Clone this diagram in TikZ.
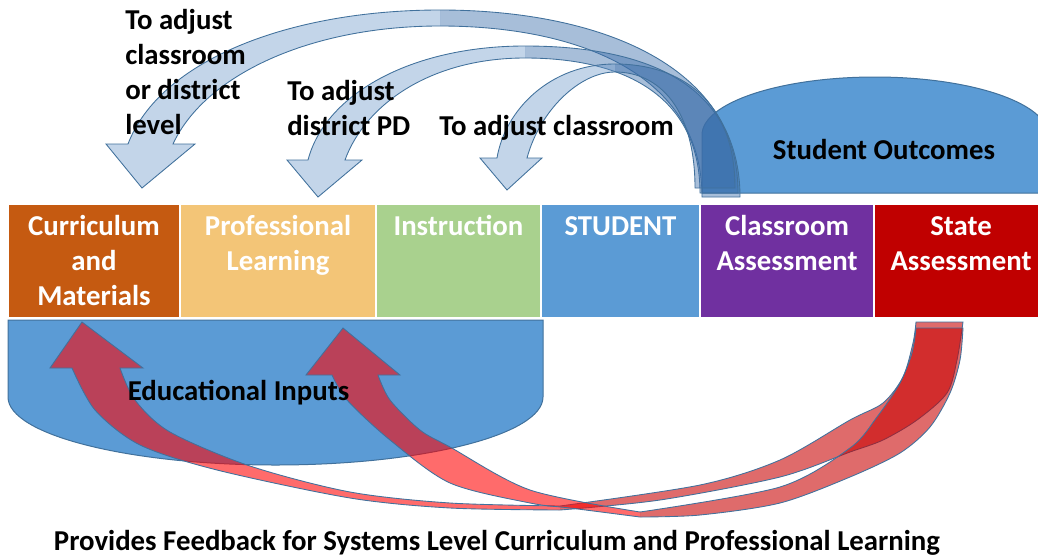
\documentclass[tikz,border=0pt]{standalone}
\usepackage{fontspec}
\setmainfont{Carlito}
\usetikzlibrary{positioning}

\definecolor{currcol}{HTML}{C55A11}
\definecolor{profcol}{HTML}{F3C577}
\definecolor{instcol}{HTML}{A9D18E}
\definecolor{studcol}{HTML}{5B9BD5}
\definecolor{classcol}{HTML}{7030A0}
\definecolor{statecol}{HTML}{C00000}
\definecolor{regionblue}{HTML}{5B9BD5}
\definecolor{regionline}{HTML}{41719C}
\definecolor{arrowblue}{RGB}{104,149,200}
\definecolor{arrowbluedark}{RGB}{60,110,170}
\definecolor{arrowreddark}{RGB}{200,0,0}
\newcommand{\diagfont}{\fontsize{21.6}{26.25}\selectfont\bfseries}

\begin{document}
\begin{tikzpicture}[
  x=0.75pt, y=-0.75pt,
  box/.style={rectangle, draw=white, line width=1pt, minimum height=85.5pt, inner sep=0pt},
  boxtext/.style={font=\diagfont, text=white, align=center, inner sep=0pt},
  note/.style={font=\diagfont, align=left, inner sep=0pt, anchor=north west},
  region/.style={fill=regionblue, draw=regionline, line width=0.75pt},
  bluefront/.style={fill=arrowblue, fill opacity=0.4},
  blueback/.style={fill=arrowbluedark, fill opacity=0.45},
  redfront/.style={fill=red, fill opacity=0.58},
  redback/.style={fill=arrowreddark, fill opacity=0.58},
  arrowline/.style={draw=regionline, line width=0.65pt},
]
\useasboundingbox (0,0) rectangle (1038,557);

% === the chain of boxes ===
\node[box, fill=currcol, minimum width=129pt] (curr) at (94,261) {};
\node[box, fill=profcol, minimum width=147pt] (prof) at (278,261) {};
\node[box, fill=instcol, minimum width=123.75pt] (inst) at (458.5,261) {};
\node[box, fill=studcol, minimum width=119.25pt] (stud) at (620.5,261) {};
\node[box, fill=classcol, minimum width=130.5pt] (class) at (787,261) {};
\node[box, fill=statecol, minimum width=130.5pt] (state) at (961,261) {};

% === outcomes and inputs ===
\draw[region] (702,193) -- (702,135) .. controls (702,103) and (779.5,77) .. (875,77)
  .. controls (970.5,77) and (1048,103) .. (1048,135) -- (1048,193) -- cycle;
\draw[region] (8,320) -- (543,320) -- (543,397) .. controls (543,434.6) and (423.2,465) .. (275.5,465)
  .. controls (127.8,465) and (8,434.6) .. (8,397) -- cycle;

% === classroom feedback (blue): back half, front half with the head, outline ===
\fill[blueback] (740,197) .. controls (740,60) and (590,10) .. (440,10) -- (440,26)
  .. controls (580,26) and (702,75) .. (702,197) -- cycle;
\fill[bluefront] (440,10) .. controls (290,10) and (160,60) .. (128,144)
  -- (106,144) -- (142,188) -- (195,144) -- (173,144)
  .. controls (205,75) and (310,26) .. (440,26) -- cycle;
\draw[arrowline] (740,197) .. controls (740,60) and (590,10) .. (440,10)
  .. controls (290,10) and (160,60) .. (128,144) -- (106,144) -- (142,188) -- (195,144) -- (173,144)
  .. controls (205,75) and (310,26) .. (440,26) .. controls (580,26) and (702,75) .. (702,197) -- cycle;

\fill[blueback] (738,193) .. controls (738,80) and (640,46) .. (525,46) -- (525,58)
  .. controls (630,58) and (700,100) .. (700,193) -- cycle;
\fill[bluefront] (525,46) .. controls (410,46) and (325,95) .. (308,160)
  -- (287,160) -- (318,197) -- (362,160) -- (345,160)
  .. controls (365,105) and (430,58) .. (525,58) -- cycle;
\draw[arrowline] (738,193) .. controls (738,80) and (640,46) .. (525,46)
  .. controls (410,46) and (325,95) .. (308,160) -- (287,160) -- (318,197) -- (362,160) -- (345,160)
  .. controls (365,105) and (430,58) .. (525,58) .. controls (630,58) and (700,100) .. (700,193) -- cycle;

\fill[blueback] (735,188) .. controls (735,100) and (680,64) .. (615,64) -- (615,72)
  .. controls (660,72) and (695,110) .. (695,188) -- cycle;
\fill[bluefront] (615,64) .. controls (550,64) and (505,110) .. (497,158)
  -- (480,158) -- (507,190) -- (542,158) -- (527,158)
  .. controls (540,110) and (580,72) .. (615,72) -- cycle;
\draw[arrowline] (735,188) .. controls (735,100) and (680,64) .. (615,64)
  .. controls (550,64) and (505,110) .. (497,158) -- (480,158) -- (507,190) -- (542,158) -- (527,158)
  .. controls (540,110) and (580,72) .. (615,72) .. controls (660,72) and (695,110) .. (695,188) -- cycle;

% === state feedback (red): back half from the tail, front half up to the head, outline ===
\fill[redback] (560,506)
  -- plot[smooth] coordinates {(560,506) (700,485) (780,460) (850,420) (883,403) (903,377) (913,343) (916,322)}
  -- (963,322)
  -- plot[smooth] coordinates {(963,322) (957,360) (947,393) (917,420) (883,440) (850,452) (780,477)
     (660,500) (560,510)}
  -- cycle;
\fill[redfront] (72,368) -- (50,368) -- (82,322) -- (143,368) -- (120,368)
  -- plot[smooth] coordinates {(120,368) (135,400) (170,432) (250,466) (350,492) (450,503) (560,506)}
  -- (560,510)
  -- plot[smooth] coordinates {(560,510) (450,508) (350,498) (217,470) (140,445) (95,410) (72,368)}
  -- cycle;
\draw[arrowline] (72,368) -- (50,368) -- (82,322) -- (143,368) -- (120,368)
  -- plot[smooth] coordinates {(120,368) (135,400) (170,432) (250,466) (350,492) (450,503) (560,506)}
  -- plot[smooth] coordinates {(560,506) (700,485) (780,460) (850,420) (883,403) (903,377) (913,343) (916,322)}
  -- (963,322)
  -- plot[smooth] coordinates {(963,322) (957,360) (947,393) (917,420) (883,440) (850,452) (780,477)
     (660,500) (560,510)}
  -- plot[smooth] coordinates {(560,510) (450,508) (350,498) (217,470) (140,445) (95,410) (72,368)}
  -- cycle;

\fill[redback] (640,512)
  -- plot[smooth] coordinates {(640,512) (780,487) (850,448) (877,417) (900,383) (912,353) (916,328)}
  -- (963,328)
  -- plot[smooth] coordinates {(963,328) (960,360) (950,393) (930,427) (900,453) (850,477) (780,503)
     (700,515) (640,517)}
  -- cycle;
\fill[redfront] (332,375) -- (306,375) -- (343,328) -- (400,375) -- (378,375)
  -- plot[smooth] coordinates {(378,375) (390,400) (420,430) (450,447) (530,490) (640,512)}
  -- (640,517)
  -- plot[smooth] coordinates {(640,517) (570,508) (530,503) (450,483) (390,440) (347,400) (332,375)}
  -- cycle;
\draw[arrowline] (332,375) -- (306,375) -- (343,328) -- (400,375) -- (378,375)
  -- plot[smooth] coordinates {(378,375) (390,400) (420,430) (450,447) (530,490) (640,512)}
  -- plot[smooth] coordinates {(640,512) (780,487) (850,448) (877,417) (900,383) (912,353) (916,328)}
  -- (963,328)
  -- plot[smooth] coordinates {(963,328) (960,360) (950,393) (930,427) (900,453) (850,477) (780,503)
     (700,515) (640,517)}
  -- plot[smooth] coordinates {(640,517) (570,508) (530,503) (450,483) (390,440) (347,400) (332,375)}
  -- cycle;

% === texts ===
\node[boxtext, below=9pt of curr.north] (currtext) {Curriculum\\and\\Materials};
\node[boxtext, below=9pt of prof.north] (proftext) {Professional\\Learning};
\node[boxtext, below=9pt of inst.north] (insttext) {Instruction};
\node[boxtext, below=9.5pt of stud.north] (studtext) {STUDENT};
\node[boxtext, below=9pt of class.north] (classtext) {Classroom\\Assessment};
\node[boxtext, below=9.5pt of state.north] (statetext) {State\\Assessment};

\node[note] (adjustall) at (125,9) {To adjust\\classroom\\or district\\level};
\node[note] (adjustpd) at (287,80) {To adjust\\district PD};
\node[note] (adjustroom) at (439,115) {To adjust classroom};

\node[font=\diagfont, anchor=base] (outcomes) at (884,159) {Student Outcomes};
\node[font=\diagfont, anchor=base] (inputs) at (238.5,400) {Educational Inputs};
\node[font=\diagfont, anchor=base] (feedback) at (497,550) {Provides Feedback for Systems Level Curriculum and Professional Learning};
\end{tikzpicture}
\end{document}
